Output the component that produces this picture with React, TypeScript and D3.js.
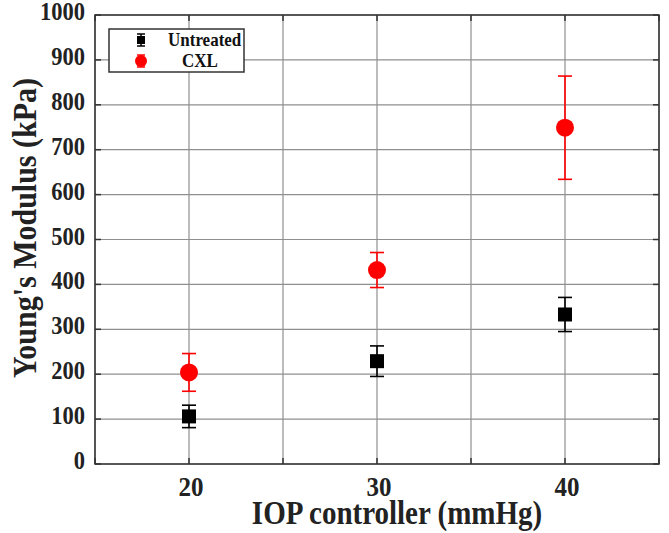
import React from 'react';
import * as d3 from 'd3';

const pressures = [20, 30, 40];
const untreatedMean = [106, 229, 333];
const untreatedErr = [25, 34, 38];
const cxlMean = [204, 432, 749];
const cxlErr = [42, 39, 115];
const yTicks = [0, 100, 200, 300, 400, 500, 600, 700, 800, 900, 1000];
const xGrid = [15, 20, 25, 30, 35, 40, 45];
const xLabels = [20, 30, 40];

const W = 669;
const H = 533;
const m = { left: 95, right: 10, top: 15, bottom: 69 };
const font = '"Liberation Serif", "Times New Roman", serif';

const App = () => {
  const x = d3.scaleLinear().domain([15, 45]).range([m.left, W - m.right]);
  const y = d3.scaleLinear().domain([0, 1000]).range([H - m.bottom, m.top]);

  const series = [
    { name: 'Untreated', mean: untreatedMean, err: untreatedErr, color: '#000', shape: 'square' },
    { name: 'CXL', mean: cxlMean, err: cxlErr, color: '#ff0000', shape: 'circle' },
  ];

  const marker = (shape: string, cx: number, cy: number, color: string, s: number) =>
    shape === 'square'
      ? <rect x={cx - s / 2} y={cy - s / 2} width={s} height={s} fill={color} />
      : <circle cx={cx} cy={cy} r={s / 2 + 2} fill={color} />;

  return (
    <svg width={W} height={H} style={{ position: 'absolute', left: 0, top: 0, background: '#fff' }}>
      {/* grid */}
      {yTicks.map(t => (
        <line key={'gy' + t} x1={x(15)} x2={x(45)} y1={y(t)} y2={y(t)} stroke="#8f8f8f" strokeWidth={1.2} />
      ))}
      {xGrid.map(t => (
        <line key={'gx' + t} x1={x(t)} x2={x(t)} y1={y(0)} y2={y(1000)} stroke="#8f8f8f" strokeWidth={1.2} />
      ))}
      {/* ticks on the frame */}
      {yTicks.map(t => (
        <g key={'ty' + t}>
          <line x1={x(15)} x2={x(15) + 6} y1={y(t)} y2={y(t)} stroke="#333" strokeWidth={1.5} />
          <line x1={x(45) - 6} x2={x(45)} y1={y(t)} y2={y(t)} stroke="#333" strokeWidth={1.5} />
        </g>
      ))}
      {xGrid.map(t => (
        <g key={'tx' + t}>
          <line x1={x(t)} x2={x(t)} y1={y(0)} y2={y(0) - 6} stroke="#333" strokeWidth={1.5} />
          <line x1={x(t)} x2={x(t)} y1={y(1000)} y2={y(1000) + 6} stroke="#333" strokeWidth={1.5} />
        </g>
      ))}
      <rect x={x(15)} y={y(1000)} width={x(45) - x(15)} height={y(0) - y(1000)} fill="none" stroke="#333" strokeWidth={1.5} />

      {/* data */}
      {series.map(s => (
        <g key={s.name}>
          {pressures.map((p, i) => {
            const cx = x(p);
            const top = y(s.mean[i] + s.err[i]);
            const bot = y(s.mean[i] - s.err[i]);
            return (
              <g key={p}>
                <line x1={cx} x2={cx} y1={top} y2={bot} stroke={s.color} strokeWidth={1.6} />
                <line x1={cx - 7} x2={cx + 7} y1={top} y2={top} stroke={s.color} strokeWidth={1.6} />
                <line x1={cx - 7} x2={cx + 7} y1={bot} y2={bot} stroke={s.color} strokeWidth={1.6} />
                {marker(s.shape, cx, y(s.mean[i]), s.color, 14)}
              </g>
            );
          })}
        </g>
      ))}

      {/* y tick labels */}
      {yTicks.map(t => (
        <text key={'ly' + t} transform={`translate(${x(15) - 10},${y(t) + 5}) scale(1,1.1)`} textAnchor="end" fontFamily={font} fontWeight="bold" fontSize={22.5} fill="#222">{t}</text>
      ))}
      {xLabels.map(t => (
        <text key={'lx' + t} transform={`translate(${x(t) + 2},${y(0) + 32}) scale(1,1.05)`} textAnchor="middle" fontFamily={font} fontWeight="bold" fontSize={25} fill="#222">{t}</text>
      ))}
      <text transform={`translate(397,524) scale(1,1.14)`} textAnchor="middle" fontFamily={font} fontWeight="bold" fontSize={29} fill="#222">IOP controller (mmHg)</text>
      <text transform={`translate(36,228) rotate(-90) scale(1,1.14)`} textAnchor="middle" fontFamily={font} fontWeight="bold" fontSize={30} fill="#222">Young's Modulus (kPa)</text>

      {/* legend */}
      <rect x={109} y={29} width={135} height={43} fill="#fff" stroke="#333" strokeWidth={1.5} />
      {series.map((s, i) => {
        const ly = 40 + i * 21;
        return (
          <g key={'lg' + s.name}>
            <line x1={141} x2={141} y1={ly - 6} y2={ly + 6} stroke={s.color} strokeWidth={1.5} />
            <line x1={137} x2={145} y1={ly - 6} y2={ly - 6} stroke={s.color} strokeWidth={1.5} />
            <line x1={137} x2={145} y1={ly + 6} y2={ly + 6} stroke={s.color} strokeWidth={1.5} />
            {marker(s.shape, 141, ly, s.color, 8)}
            <text transform={`translate(${s.name === 'CXL' ? 182 : 168},${ly + 6}) scale(1,1.1)`} fontFamily={font} fontWeight="bold" fontSize={17} fill="#111">{s.name}</text>
          </g>
        );
      })}
    </svg>
  );
};

export default App;
